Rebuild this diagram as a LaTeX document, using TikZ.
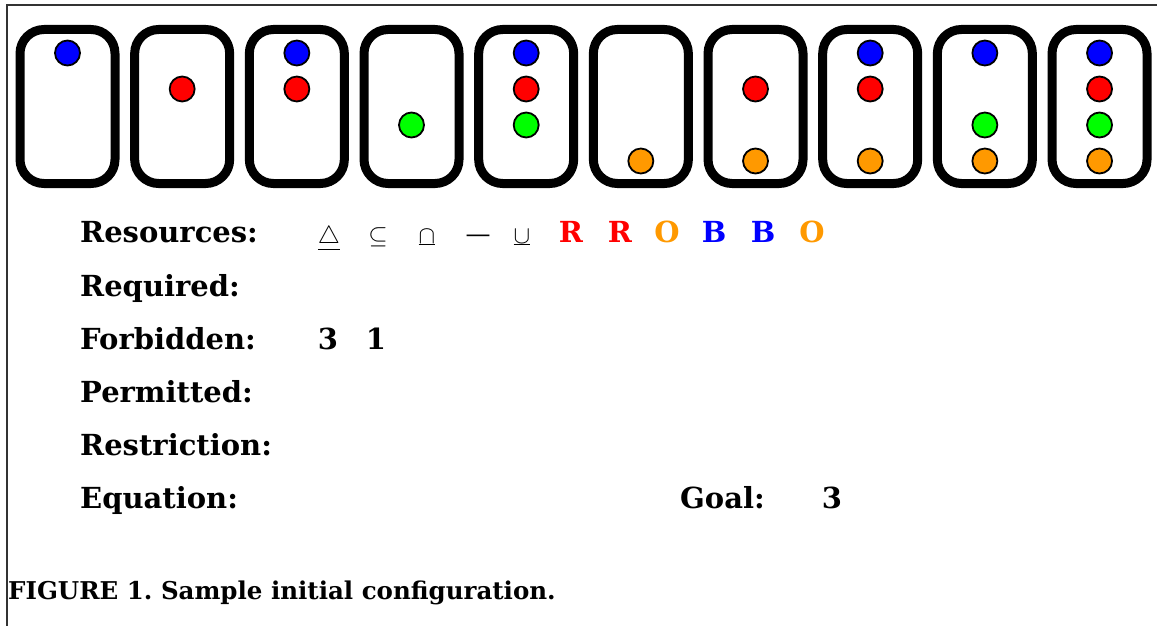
\documentclass[tikz,border=0pt]{standalone}
\usepackage{fontspec}
\setmainfont{DejaVu Serif}
\frenchspacing
\definecolor{dotblue}{RGB}{0,0,255}
\definecolor{dotred}{RGB}{255,0,0}
\definecolor{dotgreen}{RGB}{0,255,0}
\definecolor{dotorange}{RGB}{255,153,0}
\definecolor{framegray}{RGB}{51,51,51}
\tikzset{
  card/.style={draw=black, line width=9pt, rounded corners=24pt, fill=white},
  dot/.style={circle, draw=black, line width=1.8pt, minimum size=25pt, inner sep=0pt},
  lbl/.style={anchor=base west, inner sep=0pt, font=\fontsize{29}{32}\selectfont\bfseries},
  val/.style={anchor=base, inner sep=0pt, font=\fontsize{29}{32}\selectfont\bfseries},
  sym/.style={anchor=base, inner sep=0pt, font=\fontsize{25}{28}\selectfont},
  caption/.style={anchor=base west, inner sep=0pt, font=\fontsize{24.5}{27}\selectfont\bfseries}
}
\begin{document}
\begin{tikzpicture}[x=1pt,y=-1pt]
\useasboundingbox (0,0) rectangle (1157,626);
\draw[framegray, line width=2.5pt] (1157,5) -- (7,5) -- (7,626);
% cards
\foreach \i/\b/\r/\g/\o in {1/1/0/0/0,2/0/1/0/0,3/1/1/0/0,4/0/0/1/0,5/1/1/1/0,6/0/0/0/1,7/0/1/0/1,8/1/1/0/1,9/1/0/1/1,10/1/1/1/1}{
  \pgfmathsetmacro{\cx}{67.5+114.67*(\i-1)}
  \draw[card] (\cx-47.5,29.5) rectangle (\cx+47.5,183.5);
  \ifnum\b=1 \node[dot, fill=dotblue] (b\i) at (\cx,53) {};\fi
  \ifnum\r=1 \node[dot, fill=dotred] (r\i) at (\cx,89) {};\fi
  \ifnum\g=1 \node[dot, fill=dotgreen] (g\i) at (\cx,125) {};\fi
  \ifnum\o=1 \node[dot, fill=dotorange] (o\i) at (\cx,161) {};\fi
}
% labels
\node[lbl] (res) at (80,242) {Resources:};
\node[lbl] (req) at (80,296) {Required:};
\node[lbl] (forb) at (80,349) {Forbidden:};
\node[lbl] (perm) at (80,402) {Permitted:};
\node[lbl] (restr) at (80,455) {Restriction:};
\node[lbl] (eq) at (80,508) {Equation:};
\node[lbl] (goal) at (680,508) {Goal:};
\node[val] (goalv) at (832,508) {3};
% resources
\node[sym] (s1) at (329,243) {$\underline{\triangle}$};
\node[sym] (s2) at (378,243) {$\subseteq$};
\node[sym] (s3) at (427,243) {$\underline{\cap}$};
\node[sym] (s4) at (478,242) {---};
\node[sym] (s5) at (522,243) {$\underline{\cup}$};
\node[val, text=dotred] (c1) at (571,242) {R};
\node[val, text=dotred] (c2) at (620,242) {R};
\node[val, text=dotorange] (c3) at (667,242) {O};
\node[val, text=dotblue] (c4) at (714,242) {B};
\node[val, text=dotblue] (c5) at (763,242) {B};
\node[val, text=dotorange] (c6) at (812,242) {O};
% forbidden
\node[val] (f1) at (328,349) {3};
\node[val] (f2) at (376,349) {1};
% caption
\node[caption] (cap) at (8,599) {FIGURE 1. Sample initial configuration.};
\end{tikzpicture}
\end{document}
